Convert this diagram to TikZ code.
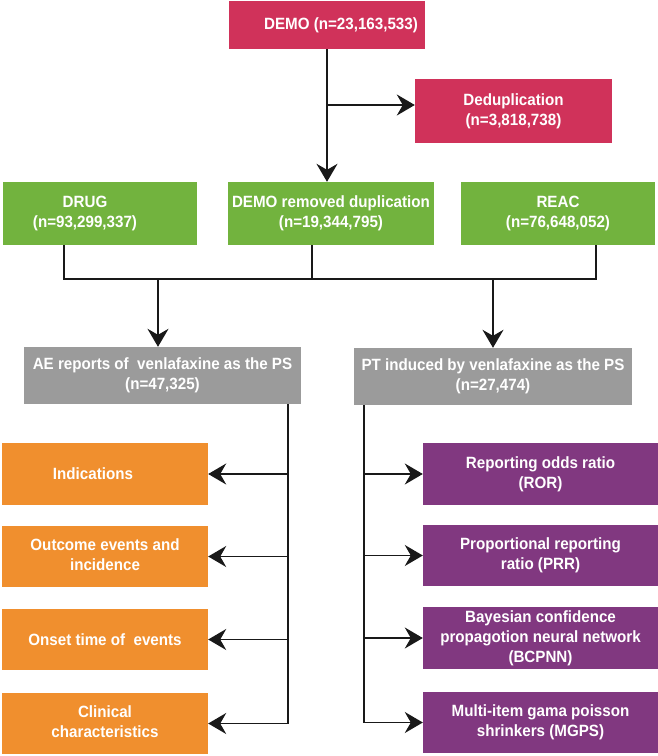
\documentclass[tikz,border=0pt]{standalone}
\usepackage{fontspec}
\setmainfont{Liberation Sans}[FakeStretch=0.93]
\usetikzlibrary{arrows.meta}
\definecolor{crim}{RGB}{208,50,90}
\definecolor{grn}{RGB}{114,179,62}
\definecolor{gry}{RGB}{155,155,155}
\definecolor{org}{RGB}{240,143,46}
\definecolor{pur}{RGB}{129,56,128}
\newcommand{\tb}[1]{\begin{tabular}{@{}c@{}}#1\end{tabular}}
\begin{document}
\begin{tikzpicture}[x=1pt,y=-1pt,
  box/.style={draw=none, inner sep=0pt, text=white, font=\fontsize{16.3}{20}\selectfont\bfseries},
  ln/.style={line width=1.8pt, black!90},
  arr/.style={ln, -{Stealth[length=18pt,width=21pt,inset=6pt]}}]
\useasboundingbox (0,0) rectangle (658,756);

% top
\node[box, fill=crim, minimum width=196pt, minimum height=48pt] (demo) at (327,25) {\hspace*{28pt}DEMO (n=23,163,533)};
\node[box, fill=crim, minimum width=197pt, minimum height=64pt] (dedup) at (513.5,111) {\tb{Deduplication\\(n=3,818,738)}};

% green
\node[box, fill=grn, minimum width=194pt, minimum height=63pt] (drug) at (100,213.5) {\tb{DRUG\\(n=93,299,337)}\hspace*{30pt}};
\node[box, fill=grn, minimum width=206pt, minimum height=63pt] (demorem) at (331,213.5) {\tb{DEMO removed duplication\\(n=19,344,795)}};
\node[box, fill=grn, minimum width=194pt, minimum height=63pt] (reac) at (558,213.5) {\tb{REAC\\(n=76,648,052)}};

% gray
\node[box, fill=gry, minimum width=277pt, minimum height=57pt] (gl) at (162.5,375.5) {\tb{AE reports of~ venlafaxine as the PS\\(n=47,325)}};
\node[box, fill=gry, minimum width=278pt, minimum height=57pt] (gr) at (493,376.5) {\tb{PT induced by venlafaxine as the PS\\(n=27,474)}};

% orange
\node[box, fill=org, minimum width=206pt, minimum height=62pt] (o1) at (105,474) {Indications\hspace*{24pt}};
\node[box, fill=org, minimum width=206pt, minimum height=61pt] (o2) at (105,556.5) {\tb{Outcome events and\\incidence}};
\node[box, fill=org, minimum width=206pt, minimum height=61pt] (o3) at (105,639.5) {Onset time of~ events};
\node[box, fill=org, minimum width=206pt, minimum height=61pt] (o4) at (105,723.5) {\tb{Clinical\\characteristics}};

% purple
\node[box, fill=pur, minimum width=235pt, minimum height=62pt] (p1) at (540.5,474) {\tb{Reporting odds ratio\\(ROR)}};
\node[box, fill=pur, minimum width=235pt, minimum height=61pt] (p2) at (540.5,555.5) {\tb{Proportional reporting\\ratio (PRR)}};
\node[box, fill=pur, minimum width=235pt, minimum height=62pt] (p3) at (540.5,638) {\tb{Bayesian confidence\\propagotion neural network\\(BCPNN)}};
\node[box, fill=pur, minimum width=235pt, minimum height=61pt] (p4) at (540.5,722.5) {\tb{Multi-item gama poisson\\shrinkers (MGPS)}};

% connectors top
\coordinate (br) at (327,105);
\draw[arr] (demo.south) -- (demo.south |- demorem.north);
\draw[arr] (br) -- (br -| dedup.west);

% join
\coordinate (jl) at (64,279);
\coordinate (jm) at (312,279);
\coordinate (jr) at (596,279);
\coordinate (al) at (158,279);
\coordinate (ar) at (493,279);
\draw[ln] (jl |- drug.south) -- (jl) -- (jr) -- (jr |- reac.south);
\draw[ln] (jm |- demorem.south) -- (jm);
\draw[arr] (al) -- (al |- gl.north);
\draw[arr] (ar) -- (ar |- gr.north);

% left trunk
\coordinate (lt) at (288,0);
\draw[ln] (lt |- gl.south) -- (lt |- o4.east);
\foreach \n in {o1,o2,o3,o4} \draw[arr] (lt |- \n.east) -- (\n.east);

% right trunk
\coordinate (rt) at (364,0);
\draw[ln] (rt |- gr.south) -- (rt |- p4.west);
\foreach \n in {p1,p2,p3,p4} \draw[arr] (rt |- \n.west) -- (\n.west);
\end{tikzpicture}
\end{document}
